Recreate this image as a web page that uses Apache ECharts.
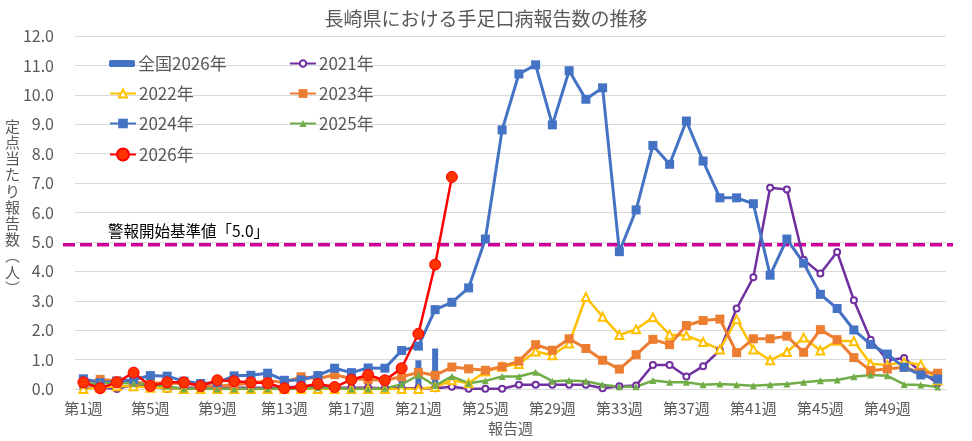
<!DOCTYPE html>
<html>
<head>
<meta charset="utf-8">
<script src="https://cdn.jsdelivr.net/npm/echarts@6/dist/echarts.min.js"></script>
<style>
html,body{margin:0;padding:0;background:#fff;}
#chart{width:972px;height:441px;}
</style>
</head>
<body>
<div id="chart"></div>
<script>
const weeks = ['第1週','第2週','第3週','第4週','第5週','第6週','第7週','第8週','第9週','第10週',
  '第11週','第12週','第13週','第14週','第15週','第16週','第17週','第18週','第19週','第20週',
  '第21週','第22週','第23週','第24週','第25週','第26週','第27週','第28週','第29週','第30週',
  '第31週','第32週','第33週','第34週','第35週','第36週','第37週','第38週','第39週','第40週',
  '第41週','第42週','第43週','第44週','第45週','第46週','第47週','第48週','第49週','第50週',
  '第51週','第52週'];

const national2026 = [0.2,0.15,0.15,0.18,0.15,0.12,0.12,0.1,0.12,0.12,
  0.12,0.12,0.1,0.12,0.12,0.15,0.18,0.2,0.25,0.6,
  0.98,1.38];

const s2021 = [0.05,0.05,0.0,0.15,0.1,0.0,0.05,0.05,0.05,0.05,
  0.05,0.05,0.05,0.1,0.1,0.05,0.05,0.05,0.03,0.03,
  0.03,0.03,0.08,0.01,0.01,0.01,0.15,0.15,0.15,0.15,
  0.15,0.03,0.1,0.12,0.82,0.82,0.43,0.78,1.32,2.74,
  3.80,6.84,6.78,4.40,3.93,4.66,3.02,1.68,0.98,1.06,0.59,0.20];

const s2022 = [0,0.05,0.1,0.1,0.05,0.05,0,0,0,0,
  0,0,0,0,0,0,0,0,0,0,
  0,0.07,0.3,0.2,0.6,0.76,0.85,1.28,1.15,1.55,
  3.13,2.46,1.84,2.03,2.44,1.85,1.82,1.6,1.35,2.37,
  1.35,0.98,1.26,1.75,1.31,1.64,1.63,0.86,0.82,0.92,0.83,0.3];

const s2023 = [0.2,0.33,0.28,0.22,0.22,0.2,0.2,0.12,0.1,0.15,
  0.2,0.29,0.22,0.42,0.35,0.49,0.36,0.32,0.3,0.42,
  0.57,0.47,0.75,0.69,0.64,0.76,0.95,1.51,1.32,1.71,
  1.38,0.98,0.68,1.17,1.69,1.51,2.16,2.33,2.38,1.24,
  1.71,1.71,1.80,1.25,2.02,1.68,1.07,0.63,0.68,0.74,0.57,0.54];

const s2024 = [0.35,0.22,0.27,0.32,0.46,0.44,0.27,0.19,0.22,0.45,
  0.47,0.54,0.3,0.31,0.46,0.71,0.56,0.72,0.71,1.31,
  1.46,2.7,2.95,3.44,5.1,8.81,10.71,11.02,8.98,10.82,
  9.85,10.24,4.67,6.09,8.28,7.64,9.11,7.75,6.5,6.5,
  6.3,3.87,5.1,4.28,3.22,2.74,2.01,1.52,1.19,0.74,0.48,0.34];

const s2025 = [0.15,0.2,0.2,0.2,0.15,0.1,0,0.02,0,0,
  0,0,0,0.02,0.05,0.03,0,0,0.03,0.16,
  0.47,0.12,0.43,0.2,0.28,0.43,0.43,0.57,0.27,0.29,
  0.27,0.15,0.08,0.08,0.29,0.23,0.23,0.15,0.17,0.15,
  0.11,0.15,0.17,0.23,0.28,0.31,0.42,0.48,0.45,0.16,0.14,0.07];

const s2026 = [0.23,0.03,0.23,0.56,0.11,0.23,0.23,0.11,0.3,0.27,
  0.23,0.2,0.03,0.07,0.18,0.07,0.32,0.48,0.3,0.71,
  1.88,4.23,7.21];

const alertLevel = 5.0;
const alertLabel = '警報開始基準値「5.0」';
const yTicks = {min: 0, max: 12, interval: 1};

const FONT = '"Noto Sans CJK JP", "Noto Sans", sans-serif';
const TXT = '#595959';

const chart = echarts.init(document.getElementById('chart'), null, {renderer: 'canvas'});

function legendAt(name, left, top, h, w) {
  return {
    data: [name], left: left, top: top, padding: 0,
    itemWidth: w || 26, itemHeight: h, itemGap: 5,
    textStyle: {color: TXT, fontSize: 17, fontFamily: FONT, padding: [0, 0, 0, -2]},
    selectedMode: false
  };
}

const option = {
  animation: false,
  backgroundColor: '#fff',
  title: {
    text: '長崎県における手足口病報告数の推移',
    left: 'center', top: 4,
    textStyle: {color: TXT, fontSize: 19, fontWeight: 'normal', fontFamily: FONT}
  },
  legend: [
    legendAt('全国2026年', 109, 55, 7),
    legendAt('2021年', 289, 55, 8),
    legendAt('2022年', 109, 85, 10),
    legendAt('2023年', 289, 85, 11),
    legendAt('2024年', 109, 115, 12),
    legendAt('2025年', 289, 115, 9),
    legendAt('2026年', 109, 146, 15)
  ],
  graphic: [
    {
      type: 'text', left: 5, top: 118,
      style: {
        text: '定\n点\n当\nた\nり\n報\n告\n数\n︵\n人\n︶',
        fill: TXT, font: '15px ' + FONT, lineHeight: 16.2, align: 'center'
      }
    },
    {
      type: 'text', left: 108, top: 223,
      style: {text: alertLabel, fill: '#000', font: '15.5px ' + FONT}
    }
  ],
  grid: [
    {left: 75, right: 26, top: 36, bottom: 47},
    {left: 63, right: 19, top: 36, bottom: 47}
  ],
  xAxis: [
    {
      type: 'category', data: weeks, gridIndex: 0, boundaryGap: true,
      axisLine: {show: true, lineStyle: {color: '#D9D9D9'}},
      axisTick: {show: false},
      axisLabel: {interval: 3, margin: 12, color: TXT, fontSize: 15, fontFamily: FONT},
      name: '報告週', nameLocation: 'middle', nameGap: 26,
      nameTextStyle: {color: TXT, fontSize: 15, fontFamily: FONT}
    },
    {type: 'value', gridIndex: 1, min: 0, max: 1, show: false}
  ],
  yAxis: [
    {
      type: 'value', gridIndex: 0, min: yTicks.min, max: yTicks.max, interval: yTicks.interval,
      axisLine: {show: false}, axisTick: {show: false},
      splitLine: {lineStyle: {color: '#D9D9D9', width: 1}},
      axisLabel: {margin: 21, color: TXT, fontSize: 16, fontFamily: FONT,
        formatter: v => v.toFixed(1)}
    },
    {type: 'value', gridIndex: 1, min: yTicks.min, max: yTicks.max, show: false}
  ],
  series: [
    {
      name: '全国2026年', type: 'bar', data: national2026, barWidth: 6,
      itemStyle: {color: '#4472C4'}
    },
    {
      name: 'alert', type: 'line', xAxisIndex: 1, yAxisIndex: 1,
      data: [[0, alertLevel], [1, alertLevel]], symbol: 'none', silent: true,
      lineStyle: {color: '#CC0099', width: 3.5, type: [12, 5]}, z: 1
    },
    {
      name: '2021年', type: 'line', data: s2021, symbol: 'emptyCircle', symbolSize: 6,
      lineStyle: {color: '#7030A0', width: 2.5},
      itemStyle: {color: '#7030A0', borderWidth: 1}
    },
    {
      name: '2022年', type: 'line', data: s2022, symbol: 'emptyTriangle', symbolSize: 8,
      lineStyle: {color: '#FFC000', width: 2.5},
      itemStyle: {color: '#FFC000', borderWidth: 1.2}
    },
    {
      name: '2023年', type: 'line', data: s2023, symbol: 'rect', symbolSize: 9,
      lineStyle: {color: '#ED7D31', width: 3},
      itemStyle: {color: '#ED7D31'}
    },
    {
      name: '2024年', type: 'line', data: s2024, symbol: 'rect', symbolSize: 9,
      lineStyle: {color: '#4472C4', width: 3},
      itemStyle: {color: '#4472C4'}
    },
    {
      name: '2025年', type: 'line', data: s2025, symbol: 'triangle', symbolSize: 7,
      lineStyle: {color: '#70AD47', width: 2.5},
      itemStyle: {color: '#70AD47'}
    },
    {
      name: '2026年', type: 'line', data: s2026, symbol: 'circle', symbolSize: 11,
      lineStyle: {color: '#FF0000', width: 2.5},
      itemStyle: {color: '#FF3300', borderColor: '#FF0000', borderWidth: 1}
    }
  ]
};
chart.setOption(option);
</script>
</body>
</html>
